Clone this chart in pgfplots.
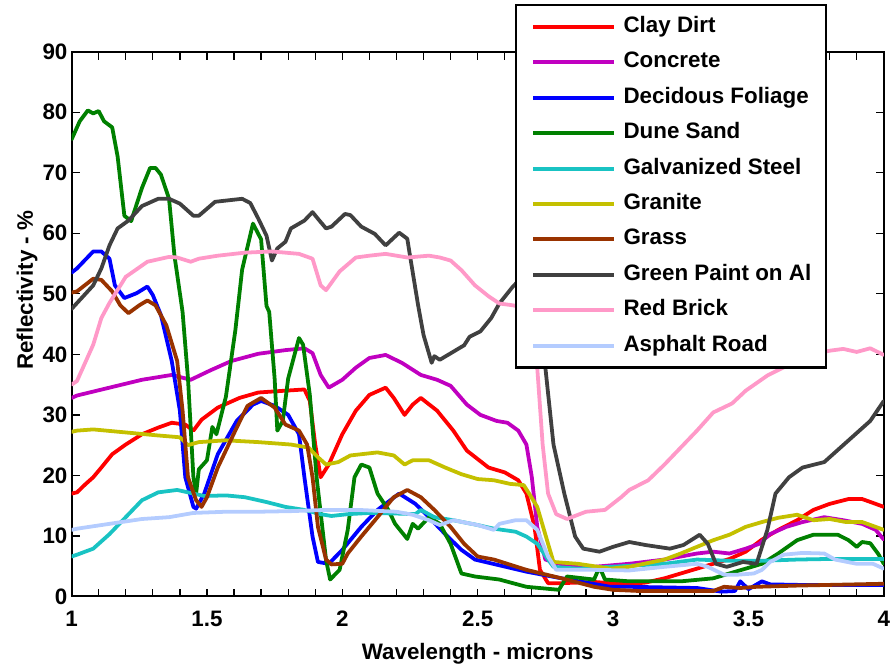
\documentclass[border=0pt]{standalone}
\usepackage{pgfplots}
\pgfplotsset{compat=1.18}
\usepackage{fontspec}
\setmainfont{Liberation Sans}

\definecolor{cClay}{RGB}{255,0,0}
\definecolor{cConcrete}{RGB}{192,0,192}
\definecolor{cFoliage}{RGB}{0,0,255}
\definecolor{cSand}{RGB}{0,128,0}
\definecolor{cSteel}{RGB}{25,195,195}
\definecolor{cGranite}{RGB}{196,192,0}
\definecolor{cGrass}{RGB}{153,51,0}
\definecolor{cPaint}{RGB}{64,64,64}
\definecolor{cBrick}{RGB}{255,153,200}
\definecolor{cAsphalt}{RGB}{180,204,255}

\newcommand{\lblfont}{\bfseries\fontsize{22.5}{27}\selectfont}

\begin{document}
\begin{tikzpicture}
\begin{axis}[
  at={(0,0)}, anchor=south west,
  scale only axis, width=817pt, height=548pt,
  xmin=1, xmax=4, ymin=0, ymax=90,
  xtick={1,1.5,2,2.5,3,3.5,4},
  xticklabels={1,1.5,2,2.5,3,3.5,4},
  minor xtick={1.1,1.2,1.3,1.4,1.6,1.7,1.8,1.9,2.1,2.2,2.3,2.4,2.6,2.7,2.8,2.9,3.1,3.2,3.3,3.4,3.6,3.7,3.8,3.9},
  ytick={0,10,20,30,40,50,60,70,80,90},
  tick align=inside, tick pos=both,
  major tick length=8pt, minor tick length=8pt,
  every tick/.style={black, line width=1.3pt},
  axis line style={black, line width=2pt},
  /pgf/number format/assume math mode=true,
  ticklabel style={font=\lblfont},
  xticklabel style={anchor=base, inner sep=0pt, yshift=-30pt},
  yticklabel style={anchor=east, inner sep=0pt, xshift=-4pt},
  xlabel={Wavelength - microns},
  ylabel={Reflectivity - \%},
  label style={font=\lblfont},
  xlabel style={at={(axis description cs:0.5,-0.115)}, anchor=base, inner sep=0pt},
  ylabel style={at={(axis description cs:-0.0477,0.562)}, anchor=base, inner sep=0pt},
  every axis plot/.append style={line width=3.8pt, line join=round, line cap=round},
  legend image code/.code={\draw[#1, line width=4pt, line cap=butt] (0pt,0pt) -- (81pt,0pt);},
  legend cell align=left,
  legend style={at={(axis description cs:0.5459,1.0876)}, anchor=north west,
    draw=black, line width=2.5pt, fill=white, font=\lblfont,
    inner xsep=15pt, inner ysep=11.5pt, row sep=14.6pt, column sep=8pt,
    nodes={inner sep=0pt, text height=16pt, text depth=5pt}},
]

% Clay Dirt
\addplot[cClay] coordinates {
(1.00,17.0) (1.02,17.2) (1.05,18.5) (1.08,19.7) (1.11,21.3) (1.15,23.5) (1.20,25.1)
(1.26,26.8) (1.32,27.9) (1.37,28.7) (1.42,28.4) (1.45,27.4) (1.48,29.2) (1.54,31.2)
(1.62,32.8) (1.69,33.7) (1.79,34.0) (1.86,34.2) (1.88,32.3) (1.90,25.1) (1.92,19.7)
(1.95,21.8) (2.00,26.8) (2.05,30.7) (2.10,33.3) (2.16,34.5) (2.19,32.8) (2.23,30.0)
(2.26,31.7) (2.29,32.8) (2.35,30.7) (2.41,27.4) (2.46,24.1) (2.54,21.3) (2.60,20.5)
(2.65,19.2) (2.68,17.0) (2.71,11.5) (2.73,4.4) (2.76,2.2) (2.81,2.2) (2.93,2.4)
(3.05,2.0) (3.12,2.3) (3.19,3.0) (3.31,4.6) (3.43,6.2) (3.49,7.4) (3.55,9.4)
(3.61,11.0) (3.68,12.6) (3.74,14.3) (3.80,15.3) (3.87,16.1) (3.92,16.1) (3.97,15.3)
(4.00,14.8)
};
\addlegendentry{Clay Dirt}

% Concrete
\addplot[cConcrete] coordinates {
(1.00,32.8) (1.02,33.2) (1.14,34.5) (1.26,35.8) (1.37,36.6) (1.44,35.8) (1.51,37.3)
(1.59,38.9) (1.69,40.1) (1.79,40.7) (1.86,41.0) (1.89,40.2) (1.92,36.6) (1.95,34.5)
(2.00,35.8) (2.05,37.8) (2.10,39.4) (2.16,39.9) (2.22,38.6) (2.29,36.6) (2.35,35.8)
(2.40,34.8) (2.46,31.7) (2.51,30.0) (2.57,29.0) (2.61,28.7) (2.65,27.4) (2.68,25.1)
(2.70,19.7) (2.72,11.5) (2.75,6.1) (2.81,5.3) (2.93,4.9) (3.06,5.4) (3.19,6.1)
(3.31,7.1) (3.37,7.4) (3.43,7.1) (3.49,7.9) (3.54,8.7) (3.58,10.3) (3.64,11.5)
(3.70,12.3) (3.78,13.1) (3.85,12.6) (3.92,12.0) (3.97,11.0) (4.00,9.4)
};
\addlegendentry{Concrete}

% Decidous Foliage
\addplot[cFoliage] coordinates {
(1.00,53.5) (1.02,54.2) (1.08,57.0) (1.11,57.0) (1.14,55.8) (1.16,51.4) (1.195,49.3)
(1.24,50.1) (1.28,51.2) (1.30,49.8) (1.33,46.5) (1.37,38.9) (1.40,30.7) (1.42,19.7)
(1.45,14.8) (1.46,14.5) (1.49,17.0) (1.54,23.5) (1.61,29.0) (1.67,31.7) (1.70,32.3)
(1.75,31.5) (1.80,30.0) (1.84,26.8) (1.86,19.7) (1.89,9.9) (1.91,5.7) (1.95,5.4)
(2.00,7.7) (2.07,11.5) (2.13,14.3) (2.21,17.0) (2.27,15.3) (2.32,13.1) (2.38,10.3)
(2.44,7.7) (2.49,6.1) (2.68,4.1) (2.81,3.0) (2.99,1.6) (3.06,1.6) (3.31,1.4)
(3.40,0.8) (3.45,0.9) (3.47,2.5) (3.50,1.2) (3.55,2.5) (3.58,2.0) (3.70,1.9) (4.00,1.9)
};
\addlegendentry{Decidous Foliage}

% Dune Sand
\addplot[cSand] coordinates {
(1.00,75.5) (1.03,78.5) (1.06,80.3) (1.08,79.8) (1.10,80.2) (1.12,78.5) (1.15,77.5)
(1.17,72.7) (1.195,62.9) (1.22,62.0) (1.26,67.5) (1.29,70.8) (1.31,70.8) (1.33,69.7)
(1.36,65.7) (1.38,56.3) (1.41,47.0) (1.43,36.0) (1.45,19.7) (1.46,17.0) (1.47,21.0)
(1.50,22.5) (1.52,28.0) (1.535,26.8) (1.57,33.0) (1.605,44.0) (1.63,54.0) (1.67,61.6)
(1.70,59.0) (1.72,48.0) (1.73,47.0) (1.75,36.0) (1.76,27.4) (1.78,29.0) (1.80,36.0)
(1.84,42.7) (1.855,41.6) (1.88,33.3) (1.905,19.7) (1.94,6.0) (1.955,2.8) (1.99,4.4)
(2.02,11.0) (2.045,19.7) (2.07,21.8) (2.10,21.3) (2.13,17.0) (2.17,14.3) (2.195,12.0)
(2.24,9.5) (2.26,12.0) (2.28,11.2) (2.32,13.1) (2.36,12.0) (2.40,8.7) (2.44,3.8)
(2.49,3.3) (2.58,2.8) (2.68,1.6) (2.80,1.1) (2.83,3.3) (2.93,2.8) (2.95,4.9)
(2.97,2.8) (3.06,2.5) (3.25,2.5) (3.37,3.0) (3.49,4.6) (3.55,5.4) (3.61,7.1)
(3.68,9.3) (3.74,10.2) (3.83,10.2) (3.87,9.3) (3.90,8.2) (3.92,9.0) (3.95,8.8)
(3.98,7.0) (4.00,5.4)
};
\addlegendentry{Dune Sand}

% Galvanized Steel
\addplot[cSteel] coordinates {
(1.00,6.6) (1.02,6.9) (1.08,7.9) (1.14,10.3) (1.20,13.1) (1.26,15.9) (1.32,17.2)
(1.39,17.6) (1.45,17.0) (1.49,16.6) (1.57,16.7) (1.64,16.4) (1.72,15.6) (1.79,14.8)
(1.86,14.3) (1.92,13.6) (1.96,13.3) (2.02,13.6) (2.10,13.8) (2.20,13.7) (2.27,13.6)
(2.29,14.3) (2.34,13.1) (2.41,12.6) (2.50,11.8) (2.56,11.2) (2.64,10.7) (2.68,9.9)
(2.72,8.7) (2.76,6.1) (2.78,4.9) (2.87,4.6) (2.99,4.9) (3.19,5.4) (3.31,6.1)
(3.43,5.9) (3.55,5.9) (3.68,6.1) (3.80,6.2) (4.00,6.2)
};
\addlegendentry{Galvanized Steel}

% Granite
\addplot[cGranite] coordinates {
(1.00,27.2) (1.02,27.4) (1.08,27.6) (1.20,27.1) (1.32,26.6) (1.40,26.3) (1.43,25.0)
(1.47,25.5) (1.57,25.8) (1.69,25.5) (1.81,25.1) (1.875,24.6) (1.91,23.0) (1.94,21.8)
(1.985,22.2) (2.03,23.3) (2.07,23.5) (2.13,23.8) (2.19,23.3) (2.23,21.8) (2.26,22.5)
(2.32,22.5) (2.38,21.3) (2.44,20.2) (2.50,19.4) (2.56,19.2) (2.62,18.6) (2.67,18.4)
(2.69,17.0) (2.72,14.8) (2.76,8.7) (2.78,5.7) (2.87,5.4) (2.99,4.6) (3.06,4.9)
(3.19,6.1) (3.25,7.1) (3.31,8.2) (3.37,9.3) (3.43,10.2) (3.49,11.5) (3.55,12.3)
(3.61,13.0) (3.68,13.5) (3.74,12.6) (3.80,12.8) (3.86,12.3) (3.92,12.3) (3.97,11.5)
(4.00,11.0)
};
\addlegendentry{Granite}

% Grass
\addplot[cGrass] coordinates {
(1.00,50.2) (1.02,50.4) (1.08,52.5) (1.11,52.3) (1.15,50.4) (1.18,48.1) (1.21,46.8)
(1.25,48.1) (1.28,48.9) (1.31,48.1) (1.35,44.8) (1.39,38.9) (1.41,30.7) (1.43,19.7)
(1.46,15.9) (1.48,14.8) (1.50,16.4) (1.54,21.3) (1.61,27.9) (1.65,31.5) (1.70,32.8)
(1.75,31.2) (1.79,28.4) (1.84,27.4) (1.87,25.1) (1.89,19.7) (1.91,11.5) (1.94,6.1)
(1.96,5.3) (2.00,5.4) (2.02,7.1) (2.07,9.9) (2.13,13.1) (2.19,16.4) (2.24,17.6)
(2.29,16.4) (2.34,14.3) (2.40,11.5) (2.45,8.7) (2.50,6.6) (2.56,6.1) (2.68,4.4)
(2.81,3.0) (2.93,1.6) (3.00,1.1) (3.10,0.9) (3.37,0.9) (3.41,1.6) (3.47,1.4)
(3.53,1.6) (3.68,1.8) (4.00,2.1)
};
\addlegendentry{Grass}

% Green Paint on Al
\addplot[cPaint] coordinates {
(1.00,47.5) (1.08,51.4) (1.11,54.2) (1.14,58.0) (1.17,60.8) (1.21,62.1) (1.26,64.5)
(1.32,65.7) (1.36,65.7) (1.40,64.9) (1.45,62.9) (1.47,62.9) (1.53,65.2) (1.59,65.5)
(1.63,65.7) (1.66,65.0) (1.69,62.4) (1.72,59.6) (1.74,55.5) (1.76,57.5) (1.79,58.6)
(1.81,60.8) (1.86,62.1) (1.89,63.5) (1.91,62.4) (1.94,60.8) (1.96,61.1) (2.01,63.2)
(2.03,63.0) (2.07,61.1) (2.12,59.9) (2.16,58.0) (2.21,60.1) (2.24,59.1) (2.25,56.3)
(2.28,48.1) (2.30,43.2) (2.33,38.6) (2.34,39.7) (2.36,39.1) (2.42,40.7) (2.45,41.5)
(2.47,42.9) (2.51,43.8) (2.55,46.0) (2.58,48.4) (2.63,51.2) (2.67,53.0) (2.71,50.0)
(2.75,37.8) (2.78,25.1) (2.82,17.0) (2.86,9.9) (2.89,7.9) (2.95,7.4) (3.00,8.2)
(3.06,9.0) (3.12,8.5) (3.21,7.9) (3.26,8.5) (3.32,10.2) (3.35,8.7) (3.38,5.4)
(3.42,4.9) (3.48,5.7) (3.53,5.4) (3.57,11.0) (3.60,17.0) (3.65,19.7) (3.70,21.3)
(3.78,22.2) (3.87,25.8) (3.95,29.0) (4.00,32.3)
};
\addlegendentry{Green Paint on Al}

% Red Brick
\addplot[cBrick] coordinates {
(1.00,35.0) (1.02,35.6) (1.08,41.6) (1.11,46.0) (1.14,48.5) (1.20,52.8) (1.28,55.3)
(1.36,56.1) (1.39,56.0) (1.44,55.3) (1.47,55.8) (1.54,56.3) (1.64,56.8) (1.74,57.0)
(1.84,56.6) (1.89,55.8) (1.92,51.4) (1.94,50.6) (1.99,53.7) (2.05,56.0) (2.10,56.3)
(2.16,56.6) (2.24,56.0) (2.32,56.3) (2.36,56.0) (2.40,55.5) (2.44,53.9) (2.49,51.4)
(2.54,49.6) (2.58,48.4) (2.63,48.1) (2.69,47.5) (2.72,37.8) (2.74,25.1) (2.76,17.0)
(2.79,13.6) (2.83,12.8) (2.90,14.0) (2.97,14.3) (3.03,16.4) (3.06,17.6) (3.13,19.2)
(3.19,21.8) (3.25,24.6) (3.31,27.4) (3.37,30.4) (3.44,31.9) (3.49,34.0) (3.57,36.5)
(3.65,38.3) (3.72,39.9) (3.80,40.6) (3.85,40.9) (3.90,40.4) (3.95,41.0) (4.00,39.9)
};
\addlegendentry{Red Brick}

% Asphalt Road
\addplot[cAsphalt] coordinates {
(1.00,11.0) (1.02,11.2) (1.14,12.0) (1.26,12.8) (1.36,13.1) (1.45,13.8) (1.57,14.0)
(1.69,14.0) (1.81,14.1) (1.94,14.3) (2.06,14.3) (2.20,14.0) (2.26,13.5) (2.32,12.6)
(2.36,11.8) (2.41,12.6) (2.50,11.8) (2.56,11.0) (2.58,12.0) (2.64,12.6) (2.68,12.6)
(2.72,11.0) (2.76,6.6) (2.79,4.4) (2.93,4.4) (3.06,4.3) (3.19,4.9) (3.31,5.4)
(3.35,4.9) (3.41,3.6) (3.46,3.6) (3.52,3.8) (3.55,4.4) (3.58,5.7) (3.63,6.9)
(3.70,7.2) (3.78,7.1) (3.82,6.1) (3.90,5.4) (3.96,5.4) (4.00,4.6)
};
\addlegendentry{Asphalt Road}

\end{axis}
\path[use as bounding box] (-72pt,-70pt) rectangle (818pt,600pt);
\end{tikzpicture}
\end{document}
